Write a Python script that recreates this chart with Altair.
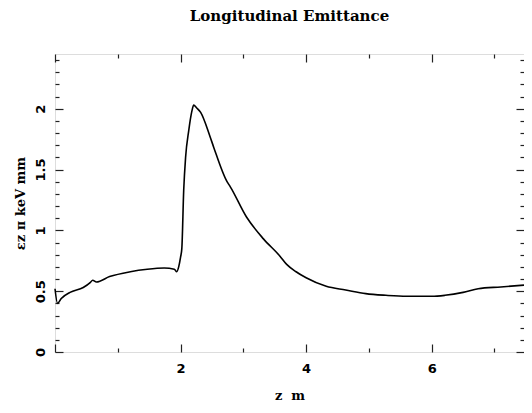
import altair as alt
import pandas as pd

# position along beamline (m) and longitudinal emittance (pi keV mm)
z_vals = [0.0, 0.04, 0.1, 0.24, 0.45, 0.56, 0.6, 0.66, 0.87, 1.2, 1.47, 1.74, 1.9, 1.94,
          1.97, 2.0, 2.02, 2.05, 2.08, 2.13, 2.18, 2.21, 2.25, 2.32, 2.47, 2.53, 2.74,
          2.79, 3.05, 3.32, 3.58, 3.69, 3.84, 4.0, 4.32, 4.63, 4.95, 5.27, 5.6, 6.0,
          6.21, 6.5, 6.74, 7.1, 7.47]
ez_vals = [0.52, 0.40, 0.44, 0.49, 0.53, 0.57, 0.59, 0.575, 0.62, 0.66, 0.68, 0.69, 0.68, 0.66,
           0.70, 0.78, 0.85, 1.33, 1.60, 1.82, 1.98, 2.03, 2.01, 1.97, 1.77, 1.68, 1.40,
           1.36, 1.11, 0.93, 0.79, 0.72, 0.66, 0.61, 0.54, 0.51, 0.48, 0.466, 0.458, 0.458,
           0.466, 0.49, 0.52, 0.535, 0.55]

x_labels = [2, 4, 6]
y_labels = [0, 0.5, 1, 1.5, 2]
x_major = [0, 2, 4, 6]
x_minor = [1, 3, 5, 7]
y_major = [0, 0.5, 1, 1.5, 2]
y_minor = [round(0.1 * i, 1) for i in range(0, 25) if i % 5 != 0]

df = pd.DataFrame({"z": z_vals, "ez": ez_vals})

W, H = 469, 298
FONT = "DejaVu Sans"
SERIF = "DejaVu Serif"
xs = alt.Scale(domain=[0, 7.47], nice=False, zero=False)
ys = alt.Scale(domain=[0, 2.45], nice=False, zero=False)

base = alt.Chart(df)


def tick_axis(orient, offset, values, size):
    return alt.Axis(orient=orient, offset=offset, values=values, labels=False, ticks=True,
                    tickSize=size, tickColor="#222", tickWidth=1.2, domain=False,
                    grid=False, title=None)


line = base.mark_line(color="black", strokeWidth=1.6, interpolate="monotone").encode(
    x=alt.X("z:Q", scale=xs, axis=alt.Axis(
        orient="bottom", values=x_labels, ticks=False, domain=False, grid=False,
        labelFont=FONT, labelFontSize=13, labelFontWeight="bold", labelColor="black",
        labelPadding=10, title="z\u00a0\u00a0m", titleFont=SERIF, titleFontSize=13,
        titleFontWeight="bold", titleColor="black", titleY=43, titleBaseline="middle")),
    y=alt.Y("ez:Q", scale=ys, axis=alt.Axis(
        orient="left", values=y_labels, format="~g", ticks=False, domain=False, grid=False,
        labelFont=FONT, labelFontSize=13, labelFontWeight="bold", labelColor="black",
        labelAngle=270, labelAlign="center", labelBaseline="bottom", labelPadding=8,
        title="εz\u00a0π\u00a0keV\u00a0mm", titleFont=SERIF, titleFontSize=13,
        titleFontWeight="bold", titleColor="black", titleAngle=270,
        titleX=-35, titleY=H / 2, titleBaseline="middle", titleAlign="center")),
)

inv = base.mark_line(opacity=0)
l_major = inv.encode(
    x=alt.X("z:Q", scale=xs, axis=tick_axis("top", -H, x_major, 8)),
    y=alt.Y("ez:Q", scale=ys, axis=tick_axis("right", -W, y_major, 8)),
)
l_minor = inv.encode(
    x=alt.X("z:Q", scale=xs, axis=tick_axis("top", -H, x_minor, 4)),
    y=alt.Y("ez:Q", scale=ys, axis=tick_axis("right", -W, y_minor, 4)),
)
r_major = inv.encode(
    x=alt.X("z:Q", scale=xs, axis=tick_axis("bottom", -H, x_major, 8)),
    y=alt.Y("ez:Q", scale=ys, axis=tick_axis("left", -W, y_major, 8)),
)
r_minor = inv.encode(
    x=alt.X("z:Q", scale=xs, axis=tick_axis("bottom", -H, x_minor, 4)),
    y=alt.Y("ez:Q", scale=ys, axis=tick_axis("left", -W, y_minor, 4)),
)

chart = alt.layer(line, l_major, l_minor, r_major, r_minor).resolve_axis(
    x="independent", y="independent"
).resolve_scale(x="shared", y="shared").properties(
    width=W, height=H,
    autosize=alt.AutoSizeParams(type="none"),
    padding={"left": 47, "top": 46, "right": 0, "bottom": 52},
    title=alt.TitleParams("Longitudinal Emittance", font=SERIF, fontSize=15,
                          fontWeight="bold", anchor="middle", offset=29, color="black"),
).configure_view(stroke="#222", strokeWidth=1.5).configure(background="white")

chart.save("out.html", embed_options={"renderer": "svg", "actions": False})
